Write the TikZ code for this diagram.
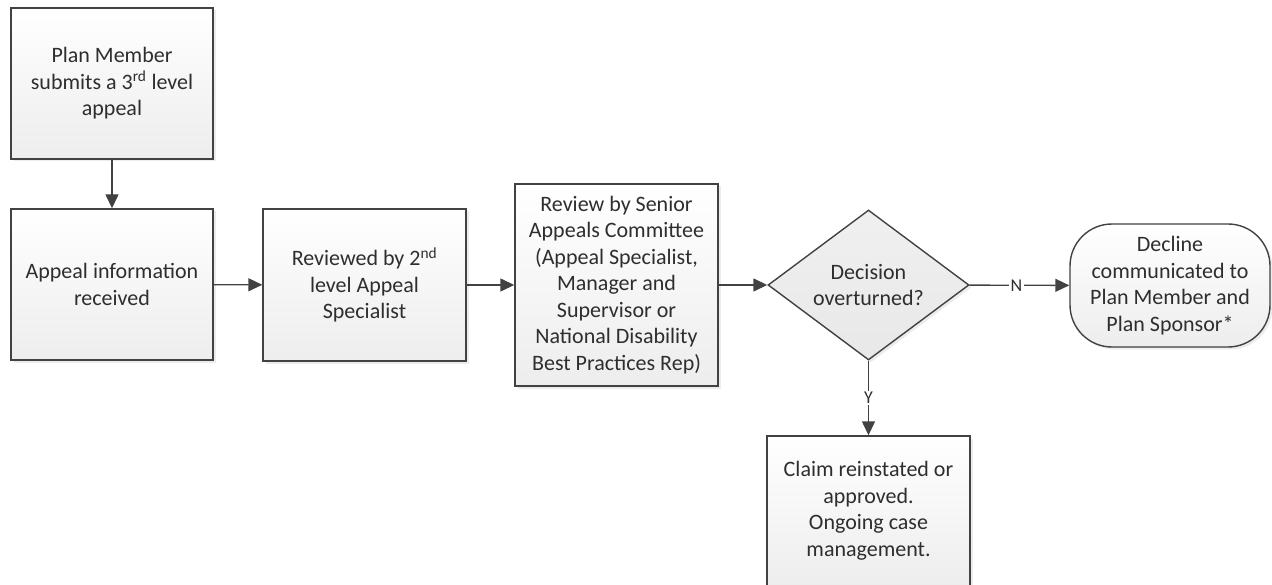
\documentclass[tikz,border=0pt]{standalone}
\usepackage{fontspec}
\setmainfont{Carlito}
\usetikzlibrary{arrows.meta,shapes.geometric,shadows}
\definecolor{edgegray}{HTML}{424242}
\definecolor{txtgray}{HTML}{2E2E2E}
\begin{document}
\begin{tikzpicture}[x=1pt,y=-1pt,
  font=\fontsize{22}{26.5}\selectfont,
  base/.style={draw=edgegray, line width=1.4pt, top color=white, bottom color=black!7,
    text=txtgray, align=center, inner sep=0pt,
    drop shadow={shadow xshift=2.5pt,shadow yshift=-2.5pt,fill=black!12,opacity=0.6}},
  procbox/.style={base, rectangle, minimum width=202pt, minimum height=#1},
  decision/.style={base, diamond, aspect=1.34, minimum width=201pt, minimum height=150pt, top color=black!6, bottom color=black!9},
  terminal/.style={base, rectangle, rounded corners=42pt, minimum width=200pt, minimum height=123pt},
  flow/.style={draw=edgegray, line width=1.4pt, -{Triangle[length=14pt,width=13pt]}},
  lbl/.style={fill=white, text=txtgray, font=\fontsize{18}{20}\selectfont, inner sep=1.5pt}
]
\useasboundingbox (0,0) rectangle (1272,585);
\node[procbox=151pt] (pm) at (112,83.5) {Plan Member\\submits a 3\textsuperscript{rd} level\\appeal};
\node[procbox=151pt] (ai) at (112,284.5) {Appeal information\\received};
\node[procbox=152pt, minimum width=203pt] (r2) at (364.5,285) {Reviewed by 2\textsuperscript{nd}\\level Appeal\\Specialist};
\node[procbox=202pt, minimum width=203pt] (sc) at (616.5,285) {Review by Senior\\Appeals Committee\\(Appeal Specialist,\\Manager and\\Supervisor or\\National Disability\\Best Practices Rep)};
\node[decision] (dec) at (868.5,285) {Decision\\overturned?};
\node[terminal] (dcl) at (1170,285.5) {Decline\\communicated to\\Plan Member and\\Plan Sponsor*};
\node[procbox=150pt, minimum width=203pt] (clm) at (868.5,511) {Claim reinstated or\\approved.\\Ongoing case\\management.};
\draw[flow] (pm) -- (ai);
\draw[flow] (ai) -- (r2);
\draw[flow] (r2) -- (sc);
\draw[flow] (sc) -- (dec);
\draw[flow] (dec) -- node[lbl, pos=0.47] {N} (dcl);
\draw[flow] (dec) -- node[lbl, pos=0.5] {Y} (clm);
\end{tikzpicture}
\end{document}
